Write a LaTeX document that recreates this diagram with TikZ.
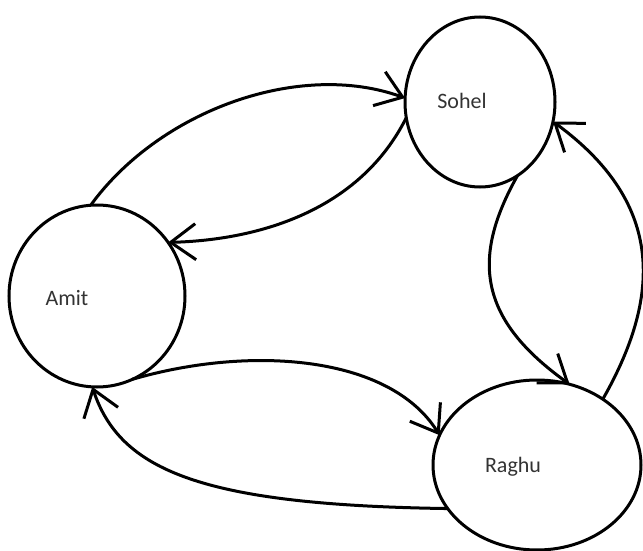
\documentclass[tikz,border=0pt]{standalone}
\usepackage{fontspec}
\setmainfont{Carlito}
\usetikzlibrary{shapes.geometric,arrows.meta}
\tikzset{
  person/.style={draw, ellipse, line width=3pt, inner sep=0pt, outer sep=0pt},
  lbl/.style={font=\fontsize{22}{25}\selectfont, text=black!80, inner sep=0pt},
  link/.style={line width=3pt, -{Straight Barb[length=25pt, width=36pt, line width=3pt]}}
}
\begin{document}
\begin{tikzpicture}[x=1pt,y=-1pt]
\useasboundingbox (0,0) rectangle (643,551);
\node[person, minimum width=150pt, minimum height=170pt] (sohel) at (480,102) {};
\node[person, minimum width=176pt, minimum height=182pt] (amit) at (97,296) {};
\node[person, minimum width=208pt, minimum height=170pt] (raghu) at (537,465) {};
\node[lbl] (tsohel) at (462,101) {Sohel};
\node[lbl] (tamit) at (67,298) {Amit};
\node[lbl] (traghu) at (513,467) {Raghu};
\draw[link] (amit.94) .. controls (160,110) and (300,60) .. (sohel.177);
\draw[link] (sohel.192) .. controls (360,210) and (260,240) .. (amit.37);
\draw[link] (sohel.297) .. controls (470,260) and (480,320) .. (raghu.68);
\draw[link] (raghu.45) .. controls (665,290) and (660,200) .. (sohel.345);
\draw[link] (amit.293) .. controls (250,345) and (390,355) .. (raghu.163);
\draw[link] (raghu.206) .. controls (200,505) and (120,470) .. (amit.267);
\end{tikzpicture}
\end{document}
